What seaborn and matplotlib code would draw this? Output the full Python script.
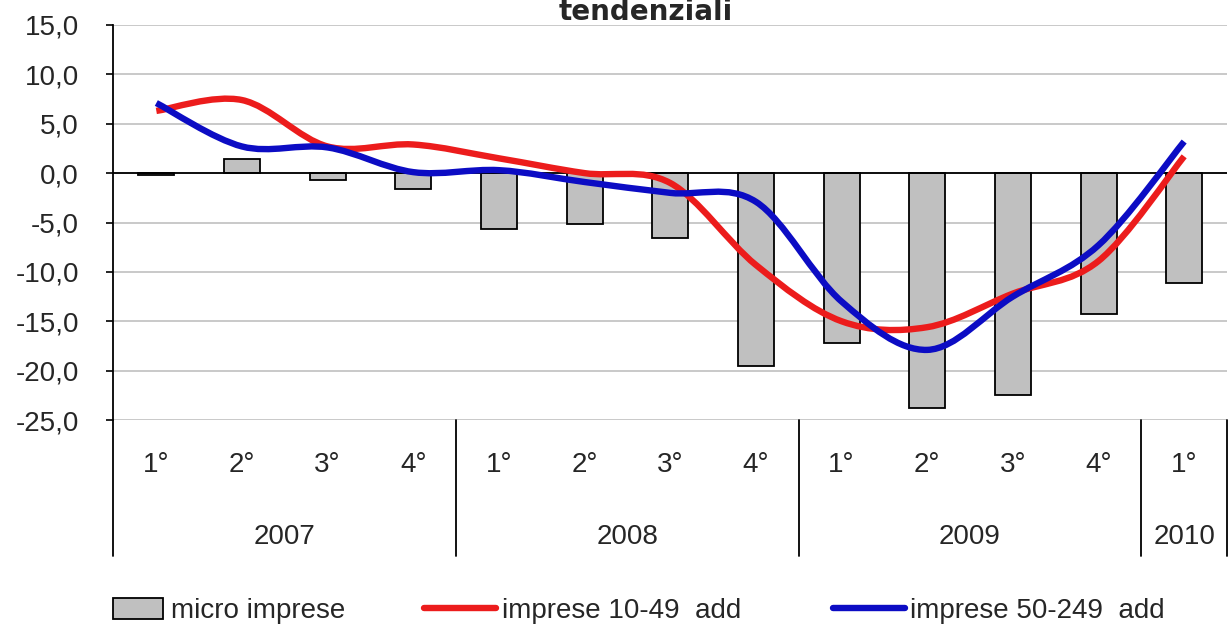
import matplotlib
matplotlib.use("Agg")
import matplotlib.pyplot as plt
import matplotlib.transforms as mtransforms
from matplotlib.path import Path
from matplotlib.patches import PathPatch, Patch
from matplotlib.lines import Line2D
import pandas as pd
import seaborn as sb

# data (variazioni tendenziali, %)
quarters = ['1°', '2°', '3°', '4°', '1°', '2°', '3°', '4°', '1°', '2°', '3°', '4°', '1°']
years = ['2007', '2008', '2009', '2010']
year_len = [4, 4, 4, 1]
micro = [-0.2, 1.4, -0.7, -1.6, -5.7, -5.2, -6.6, -19.5, -17.2, -23.8, -22.5, -14.3, -11.1]
imp_10_49 = [6.3, 7.4, 2.7, 2.9, 1.5, 0.0, -1.0, -9.3, -15.0, -15.6, -12.2, -8.9, 1.7]
imp_50_249 = [7.1, 2.7, 2.6, 0.1, 0.3, -0.9, -2.0, -2.9, -13.0, -17.9, -12.5, -7.3, 3.2]

red = '#ec1c1c'
blue = '#0c0cc4'
grey = '#c0c0c0'

sb.set_style('white')
plt.rcParams['font.family'] = ['Liberation Sans', 'DejaVu Sans']

fig = plt.figure(figsize=(12.3, 6.26), dpi=100)
W, H = 1230, 626
ax = fig.add_axes([113.5 / W, 1 - 420 / H, (1227 - 113.5) / W, 395 / H])

# one key per category so seaborn keeps 13 separate slots
keys = [f'{i:02d}' for i in range(len(micro))]
df = pd.DataFrame({'q': keys, 'micro': micro})
sb.barplot(data=df, x='q', y='micro', order=keys, color=grey, saturation=1,
           edgecolor='black', linewidth=1.3, width=0.42, ax=ax, zorder=2)


def smooth_path(ys):
    # excel-like smoothed line: cubic bezier through the points
    n = len(ys)
    xs = list(range(n))
    verts = [(xs[0], ys[0])]
    codes = [Path.MOVETO]
    for i in range(n - 1):
        a = max(i - 1, 0)
        b = min(i + 2, n - 1)
        c1 = (xs[i] + (xs[i + 1] - xs[a]) / 6, ys[i] + (ys[i + 1] - ys[a]) / 6)
        c2 = (xs[i + 1] - (xs[b] - xs[i]) / 6, ys[i + 1] - (ys[b] - ys[i]) / 6)
        verts += [c1, c2, (xs[i + 1], ys[i + 1])]
        codes += [Path.CURVE4] * 3
    return Path(verts, codes)


for ys, col in [(imp_10_49, red), (imp_50_249, blue)]:
    ax.add_patch(PathPatch(smooth_path(ys), fill=False, edgecolor=col, lw=4.6,
                           capstyle='butt', joinstyle='round', zorder=4))

ax.set_xlim(-0.5, len(micro) - 0.5)
ax.set_ylim(-25, 15)
ax.set_yticks(range(-25, 16, 5))
ax.set_yticklabels([f'{v:.1f}'.replace('.', ',') for v in range(-25, 16, 5)])
ax.yaxis.grid(True, color=grey, lw=1.2)
ax.set_axisbelow(True)
ax.axhline(0, color='black', lw=1.3, zorder=3)

for s in ['top', 'right', 'bottom']:
    ax.spines[s].set_visible(False)
ax.spines['left'].set_color('black')
ax.spines['left'].set_linewidth(1.3)

ax.set_xticks(range(len(quarters)))
ax.set_xticklabels(quarters)
ax.tick_params(axis='x', length=0, pad=23, labelsize=20)
ax.tick_params(axis='y', direction='out', length=5, width=1.2, color='black',
               pad=20, labelsize=20, left=True)
ax.set_xlabel('')
ax.set_ylabel('')

# year level of the category axis
trans = mtransforms.blended_transform_factory(ax.transData, ax.transAxes)
sep_bottom = -(556 - 420) / 395
start = -0.5
for yr, n in zip(years, year_len):
    ax.plot([start, start], [0, sep_bottom], color='black', lw=1.3,
            transform=trans, clip_on=False)
    ax.text(start + n / 2, -(537 - 420) / 395, yr, transform=trans,
            ha='center', va='center', fontsize=20)
    start += n
ax.plot([start, start], [0, sep_bottom], color='black', lw=1.3,
        transform=trans, clip_on=False)

# last line of the title, squeezed into the top strip
fig.text(646 / W, 1 - 20.5 / H, 'tendenziali', ha='center', va='baseline',
         fontsize=20, fontweight='bold', family=['DejaVu Sans'])

leg_y = 1 - 611 / H
fig.legend(handles=[Patch(facecolor=grey, edgecolor='black', lw=1.3)],
           labels=['micro imprese'], loc='center left',
           bbox_to_anchor=(113 / W, leg_y), frameon=False, fontsize=20,
           handlelength=1.8, handleheight=0.8, handletextpad=0.3,
           borderpad=0, borderaxespad=0)
fig.legend(handles=[Line2D([], [], color=red, lw=4.6),
                    Line2D([], [], color=blue, lw=4.6)],
           labels=['imprese 10-49  add', 'imprese 50-249  add'],
           loc='center left', bbox_to_anchor=(424 / W, leg_y), ncol=2,
           frameon=False, fontsize=20, handlelength=2.6, handletextpad=0.2,
           columnspacing=3.3, borderpad=0, borderaxespad=0)

fig.savefig('out.png', dpi=100, facecolor='white')
